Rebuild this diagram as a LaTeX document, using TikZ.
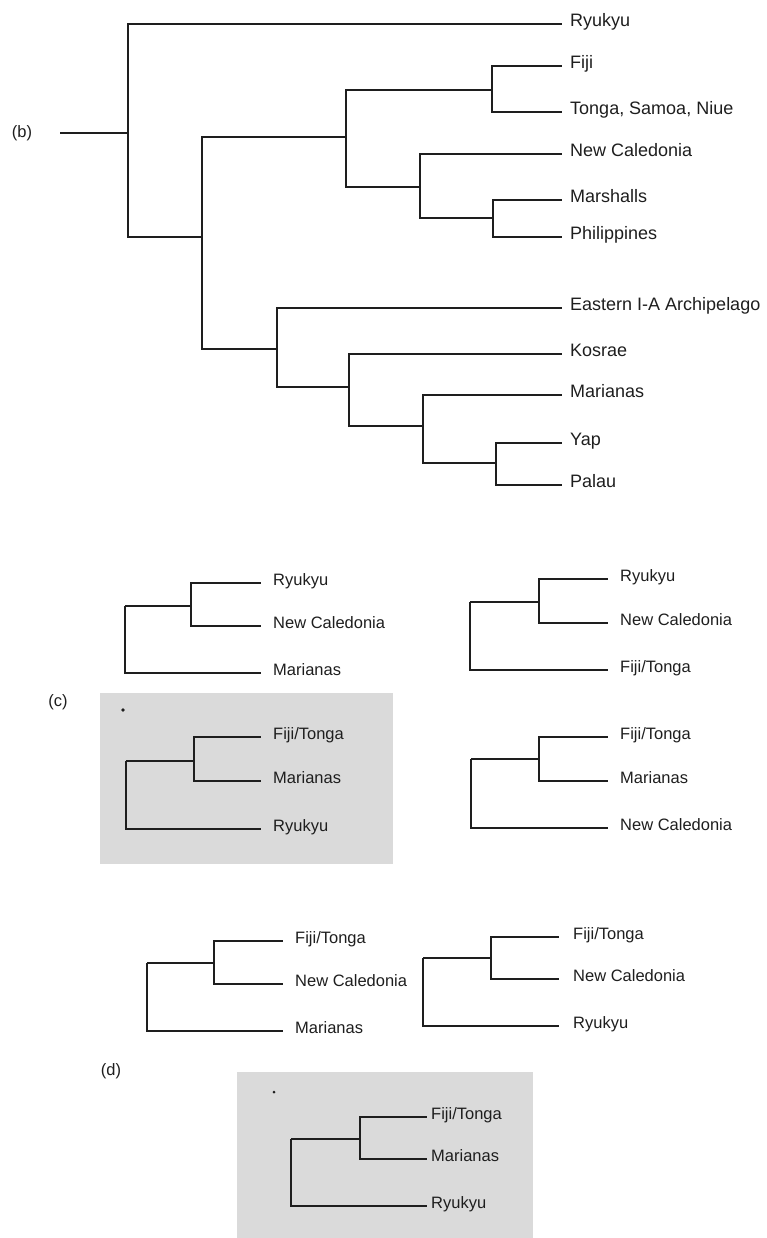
\documentclass[tikz,border=0pt]{standalone}
\usepackage{fontspec}
\setmainfont{Liberation Sans}
\definecolor{ink}{RGB}{30,30,30}
\definecolor{shade}{RGB}{218,218,218}
\begin{document}
\begin{tikzpicture}[x=1pt,y=-1pt,
  br/.style={draw=ink, line width=1.1pt},
  leafB/.style={anchor=mid west, inner xsep=8pt, inner ysep=0pt, text=ink, font=\fontsize{18}{21}\selectfont},
  leafS/.style={anchor=mid west, inner xsep=12pt, inner ysep=0pt, text=ink, font=\fontsize{16.5}{19}\selectfont},
  tag/.style={text=ink, font=\fontsize{16.5}{19}\selectfont},
  panel/.style={fill=shade, draw=none},
  speck/.style={fill=ink, draw=none}]
\useasboundingbox (0,0) rectangle (766,1238);

% ---------------- (b) ----------------
\node[tag] (lb) at (22,133) {(b)};
\coordinate (stem) at (60,133);
\coordinate (rB) at (128,133);
\coordinate (A) at (202,237);
\coordinate (B) at (346,137);
\coordinate (C) at (492,90);
\coordinate (D) at (420,187);
\coordinate (E) at (493,218);
\coordinate (F) at (277,349);
\coordinate (G) at (349,387);
\coordinate (H) at (423,426);
\coordinate (I) at (496,463);
\node[leafB] (bryu) at (562,24) {Ryukyu};
\node[leafB] (bfiji) at (562,66) {Fiji};
\node[leafB] (bton) at (562,112) {Tonga, Samoa, Niue};
\node[leafB] (bnc) at (562,154) {New Caledonia};
\node[leafB] (bmar) at (562,200) {Marshalls};
\node[leafB] (bphi) at (562,237) {Philippines};
\node[leafB] (beas) at (562,308) {Eastern I-A Archipelago};
\node[leafB] (bkos) at (562,354) {Kosrae};
\node[leafB] (bmari) at (562,395) {Marianas};
\node[leafB] (byap) at (562,443) {Yap};
\node[leafB] (bpal) at (562,485) {Palau};
\draw[br] (stem) -- (rB);
\draw[br] (rB) |- (bryu.mid west);
\draw[br] (rB) |- (A);
\draw[br] (A) |- (B);
\draw[br] (A) |- (F);
\draw[br] (B) |- (C);
\draw[br] (B) |- (D);
\draw[br] (C) |- (bfiji.mid west);
\draw[br] (C) |- (bton.mid west);
\draw[br] (D) |- (bnc.mid west);
\draw[br] (D) |- (E);
\draw[br] (E) |- (bmar.mid west);
\draw[br] (E) |- (bphi.mid west);
\draw[br] (F) |- (beas.mid west);
\draw[br] (F) |- (G);
\draw[br] (G) |- (bkos.mid west);
\draw[br] (G) |- (H);
\draw[br] (H) |- (bmari.mid west);
\draw[br] (H) |- (I);
\draw[br] (I) |- (byap.mid west);
\draw[br] (I) |- (bpal.mid west);

% ---------------- (c) ----------------
\node[tag] (lc) at (58,702) {(c)};
\fill[panel] (100,693) rectangle (393,864);
\fill[speck] (123,710) circle (1.8);

% c1
\coordinate (c1r) at (125,606);
\coordinate (c1i) at (191,606);
\node[leafS] (c1a) at (261,583) {Ryukyu};
\node[leafS] (c1b) at (261,626) {New Caledonia};
\node[leafS] (c1c) at (261,673) {Marianas};
\draw[br] (c1r) |- (c1i);
\draw[br] (c1r) |- (c1c.mid west);
\draw[br] (c1i) |- (c1a.mid west);
\draw[br] (c1i) |- (c1b.mid west);

% c2
\coordinate (c2r) at (470,602);
\coordinate (c2i) at (539,602);
\node[leafS] (c2a) at (608,579) {Ryukyu};
\node[leafS] (c2b) at (608,623) {New Caledonia};
\node[leafS] (c2c) at (608,670) {Fiji/Tonga};
\draw[br] (c2r) |- (c2i);
\draw[br] (c2r) |- (c2c.mid west);
\draw[br] (c2i) |- (c2a.mid west);
\draw[br] (c2i) |- (c2b.mid west);

% c3 (shaded)
\coordinate (c3r) at (126,761);
\coordinate (c3i) at (194,761);
\node[leafS] (c3a) at (261,737) {Fiji/Tonga};
\node[leafS] (c3b) at (261,781) {Marianas};
\node[leafS] (c3c) at (261,829) {Ryukyu};
\draw[br] (c3r) |- (c3i);
\draw[br] (c3r) |- (c3c.mid west);
\draw[br] (c3i) |- (c3a.mid west);
\draw[br] (c3i) |- (c3b.mid west);

% c4
\coordinate (c4r) at (471,759);
\coordinate (c4i) at (539,759);
\node[leafS] (c4a) at (608,737) {Fiji/Tonga};
\node[leafS] (c4b) at (608,781) {Marianas};
\node[leafS] (c4c) at (608,828) {New Caledonia};
\draw[br] (c4r) |- (c4i);
\draw[br] (c4r) |- (c4c.mid west);
\draw[br] (c4i) |- (c4a.mid west);
\draw[br] (c4i) |- (c4b.mid west);

% ---------------- (d) ----------------
% d1
\coordinate (d1r) at (147,963);
\coordinate (d1i) at (214,963);
\node[leafS] (d1a) at (283,941) {Fiji/Tonga};
\node[leafS] (d1b) at (283,984) {New Caledonia};
\node[leafS] (d1c) at (283,1031) {Marianas};
\draw[br] (d1r) |- (d1i);
\draw[br] (d1r) |- (d1c.mid west);
\draw[br] (d1i) |- (d1a.mid west);
\draw[br] (d1i) |- (d1b.mid west);

% d2
\coordinate (d2r) at (423,958);
\coordinate (d2i) at (491,958);
\node[leafS, inner xsep=14pt] (d2a) at (559,937) {Fiji/Tonga};
\node[leafS, inner xsep=14pt] (d2b) at (559,979) {New Caledonia};
\node[leafS, inner xsep=14pt] (d2c) at (559,1026) {Ryukyu};
\draw[br] (d2r) |- (d2i);
\draw[br] (d2r) |- (d2c.mid west);
\draw[br] (d2i) |- (d2a.mid west);
\draw[br] (d2i) |- (d2b.mid west);

\node[tag] (ld) at (111,1071) {(d)};
\fill[panel] (237,1072) rectangle (533,1238);
\fill[speck] (274,1092) circle (1.5);

% d3 (shaded)
\coordinate (d3r) at (291,1139);
\coordinate (d3i) at (360,1139);
\node[leafS, inner xsep=4pt] (d3a) at (427,1117) {Fiji/Tonga};
\node[leafS, inner xsep=4pt] (d3b) at (427,1159) {Marianas};
\node[leafS, inner xsep=4pt] (d3c) at (427,1206) {Ryukyu};
\draw[br] (d3r) |- (d3i);
\draw[br] (d3r) |- (d3c.mid west);
\draw[br] (d3i) |- (d3a.mid west);
\draw[br] (d3i) |- (d3b.mid west);
\end{tikzpicture}
\end{document}
